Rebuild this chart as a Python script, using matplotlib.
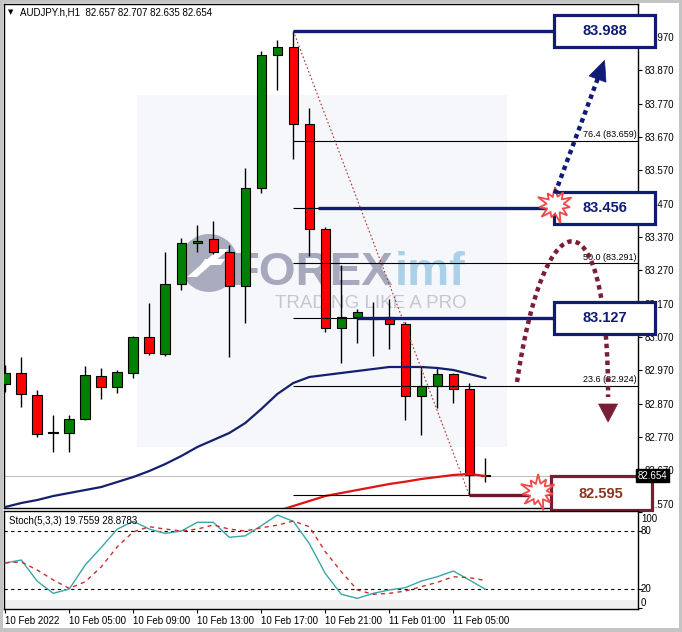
import numpy as np
import matplotlib
matplotlib.use("Agg")
import matplotlib.pyplot as plt
import matplotlib.transforms as mtransforms
from matplotlib.patches import Rectangle, Polygon, Ellipse

plt.rcParams['font.family'] = ['Liberation Sans', 'DejaVu Sans']

# AUDJPY.h H1 candles
opens  = [82.929, 82.962, 82.896, 82.782, 82.782, 82.824, 82.953, 82.920, 82.962, 83.070,
          83.019, 83.229, 83.352, 83.364, 83.325, 83.223, 83.517, 83.916, 83.940, 83.709,
          83.394, 83.097, 83.130, 83.124, 83.130, 83.109, 82.893, 82.923, 82.959, 82.914, 82.657]
highs  = [82.986, 83.010, 82.911, 82.836, 82.836, 82.983, 82.977, 82.971, 83.073, 83.172,
          83.325, 83.367, 83.406, 83.418, 83.346, 83.577, 83.928, 83.961, 83.988, 83.757,
          83.400, 83.286, 83.154, 83.175, 83.184, 83.115, 82.980, 82.977, 82.962, 82.932, 82.707]
lows   = [82.905, 82.860, 82.770, 82.725, 82.725, 82.821, 82.884, 82.902, 82.947, 83.016,
          83.013, 83.211, 83.325, 83.319, 83.010, 83.112, 83.502, 83.811, 83.604, 83.313,
          83.085, 82.992, 83.052, 83.013, 83.034, 82.821, 82.776, 82.857, 82.872, 82.595, 82.635]
closes = [82.962, 82.899, 82.779, 82.785, 82.824, 82.956, 82.920, 82.965, 83.070, 83.022,
          83.229, 83.352, 83.358, 83.325, 83.223, 83.517, 83.916, 83.940, 83.709, 83.394,
          83.097, 83.130, 83.145, 83.127, 83.109, 82.893, 82.923, 82.959, 82.914, 82.657, 82.654]

# moving averages
ma_navy = [82.560, 82.572, 82.581, 82.593, 82.602, 82.611, 82.620, 82.635, 82.650, 82.668,
           82.689, 82.713, 82.740, 82.761, 82.782, 82.812, 82.854, 82.899, 82.932, 82.950,
           82.956, 82.962, 82.968, 82.974, 82.980, 82.980, 82.980, 82.977, 82.971, 82.959, 82.947]
ma_red = [np.nan] * 17 + [82.548, 82.563, 82.578, 82.593, 82.602, 82.611, 82.620, 82.629,
                          82.636, 82.644, 82.650, 82.656, 82.659, 82.653]

# Stoch(5,3,3)
stoch_main = [47, 50, 28, 15.5, 20, 45, 63, 82, 90, 82, 77.5, 80, 89, 89, 73.5, 75, 85.5,
              96.5, 90, 67, 36, 14.5, 10.3, 15.5, 19, 21.4, 28.2, 32.7, 38.6, 29.3, 19.7559]
stoch_signal = [47, 48, 39.6, 29.3, 20.7, 27.5, 43, 63.7, 79.2, 84.4, 82, 80, 82, 86.2, 82,
                80, 83.4, 86, 90.3, 84.4, 58.6, 37.9, 19, 14.5, 15.5, 17.9, 22.4, 26.9,
                32.7, 31.7, 28.8783]

time_ticks = [0, 4, 8, 12, 16, 20, 24, 28]
time_labels = ['10 Feb 2022', '10 Feb 05:00', '10 Feb 09:00', '10 Feb 13:00',
               '10 Feb 17:00', '10 Feb 21:00', '11 Feb 01:00', '11 Feb 05:00']

# fibonacci from bar 18 high to bar 29 low
fib_high, fib_low, fib_start = 83.988, 82.595, 18
fib_levels = [0.0, 23.6, 38.2, 50.0, 61.8, 76.4, 100.0]
fib_labelled = [23.6, 50.0, 76.4]   # the others sit under the boxes

# target boxes: price, line start bar
navy_targets = [(83.988, 18.0), (83.456, 19.55), (83.127, 22.0)]
red_target = (82.595, 29.0)
box_left, box_w, box_h = 34.3, 6.3, 0.095

navy = '#101c74'
maroon = '#7a1e36'

W, H = 682, 632
fig = plt.figure(figsize=(W / 100, H / 100), dpi=100, facecolor='#c4c4c4')
fig.add_artist(Rectangle((3 / W, 4 / H), 676 / W, 625 / H, transform=fig.transFigure,
                         facecolor='white', edgecolor='none', zorder=-5))


def frac(x0, y0, x1, y1):
    return [x0 / W, 1 - y1 / H, (x1 - x0) / W, (y1 - y0) / H]


ax = fig.add_axes(frac(4, 4, 638, 508))
axs = fig.add_axes(frac(4, 511, 638, 609))

xmax = 39.54
ax.set_xlim(-0.08, xmax)
ax.set_ylim(82.557, 84.069)
axs.set_xlim(-0.08, xmax)
axs.set_ylim(-0.7, 100.7)

for a in (ax, axs):
    for s in a.spines.values():
        s.set_linewidth(1.0)
        s.set_color('black')


def pts(anchor, offsets):
    # shape offsets in screen pixels (y down) around a data anchor
    d = ax.transData.transform(anchor)
    o = np.array(offsets, dtype=float)
    o[:, 1] *= -1
    return ax.transData.inverted().transform(d + o)


# light panel behind the watermark
ax.add_patch(Rectangle((8.23, 82.740), 23.13, 1.056, facecolor='#f6f7fa', edgecolor='none', zorder=0.3))

# watermark
ax.add_patch(Ellipse((12.73, 83.292), 3.62, 0.174, facecolor='#a9acbf', edgecolor='none', zorder=0.5))
ax.add_patch(Polygon(pts((12.73, 83.292), [(-22, 14), (-12, 14), (20, -14), (10, -14)]),
                     facecolor='white', edgecolor='none', zorder=0.6))
ax.add_patch(Polygon(pts((12.73, 83.292), [(-4, -4), (16, -4), (12, 2), (-8, 2)]),
                     facecolor='white', edgecolor='none', zorder=0.6))
t1 = ax.text(14.1, 83.226, 'FOREX', fontsize=34, fontweight='bold', color='#a6a9bd',
             va='baseline', ha='left', zorder=0.7)
fig.canvas.draw()
bb = t1.get_window_extent()
x_imf = ax.transData.inverted().transform((bb.x1 + 1, bb.y0))[0]
ax.text(x_imf, 83.226, 'imf', fontsize=34, fontweight='bold', color='#abd1e8',
        va='baseline', ha='left', zorder=0.7)
ax.text(16.86, 83.157, 'TRADING LIKE A PRO', fontsize=13.5, color='#c4c6d1',
        va='baseline', ha='left', zorder=0.7)

# candles
for i in range(len(opens)):
    o, h, l, c = opens[i], highs[i], lows[i], closes[i]
    ax.vlines(i, l, h, color='black', lw=1.0, zorder=3)
    if abs(c - o) < 0.0015:
        ax.hlines(c, i - 0.33, i + 0.33, color='black', lw=1.0, zorder=3.5)
        continue
    col = '#007f00' if c > o else '#ff0000'
    ax.add_patch(Rectangle((i - 0.3, min(o, c)), 0.6, abs(c - o), facecolor=col,
                           edgecolor='black', lw=0.8, zorder=3.5))

# moving averages
x = np.arange(len(opens))
ax.plot(x, ma_navy, color='#14206e', lw=1.6, zorder=4)
ax.plot(x, ma_red, color='#e01414', lw=1.6, zorder=4)

# current price line
ax.axhline(closes[-1], color='#c0c0c0', lw=0.8, zorder=1)

# fibonacci levels
rng = fib_high - fib_low
for lv in fib_levels:
    p = fib_low + lv / 100 * rng
    ax.hlines(p, fib_start, xmax, color='black', lw=0.8, zorder=4.2)
    if lv in fib_labelled:
        ax.text(xmax - 0.08, p + 0.004, f'{lv:.1f} ({p:.3f})', fontsize=6.5, ha='right',
                va='bottom', zorder=4.3)
ax.plot([fib_start, 29], [fib_high, fib_low], color='#b03030', lw=0.8,
        linestyle=(0, (1.5, 2)), zorder=4.4)

# target lines and boxes
for price, start in navy_targets:
    ax.hlines(price, start, box_left, color=navy, lw=2.4, zorder=4.6)
    ax.add_patch(Rectangle((box_left, price - box_h / 2), box_w, box_h, facecolor='white',
                           edgecolor=navy, lw=2.3, zorder=6, clip_on=False))
    ax.text(box_left + box_w / 2, price, f'{price:.3f}', fontsize=10.5, fontweight='bold',
            color=navy, ha='center', va='center', zorder=6.5, clip_on=False)

rp, rs = red_target
ax.hlines(rp, rs, box_left - 1, color='#6a1a2c', lw=2.4, zorder=4.6)
ax.add_patch(Rectangle((box_left - 0.2, rp + 0.005 - box_h / 2), box_w, box_h + 0.004,
                       facecolor='white', edgecolor=maroon, lw=2.3, zorder=6, clip_on=False))
ax.text(box_left - 0.2 + box_w / 2, rp + 0.005, f'{rp:.3f}', fontsize=10.5, fontweight='bold',
        color='#8c3424', ha='center', va='center', zorder=6.5, clip_on=False)


def star(anchor):
    radii_out = [18, 14, 19, 16, 18, 13, 19, 16, 15, 18, 15]
    n = len(radii_out)
    verts = []
    for k in range(n):
        a0 = np.pi / 2 + 2 * np.pi * k / n
        a1 = a0 + np.pi / n
        verts.append((radii_out[k] * np.cos(a0), -radii_out[k] * np.sin(a0)))
        verts.append((8.5 * np.cos(a1), -8.5 * np.sin(a1)))
    ax.add_patch(Polygon(pts(anchor, verts), facecolor='white', edgecolor='#f04848',
                         lw=1.3, zorder=7, clip_on=False))


star((34.36, 83.466))
star((33.3, 82.605))


def head(tip, direction, length, width, color, z):
    d = np.array(direction, dtype=float)
    d /= np.hypot(*d)
    nrm = np.array([-d[1], d[0]])
    base = -d * length
    verts = [(0, 0), tuple(base + nrm * width / 2), tuple(base - nrm * width / 2)]
    ax.add_patch(Polygon(pts(tip, verts), facecolor=color, edgecolor=color, lw=0.5, zorder=z))


# up arrow (navy, dotted)
up_start, up_tip = (34.35, 83.500), (37.45, 83.900)
ds = ax.transData.transform(up_start)
dt = ax.transData.transform(up_tip)
vec = (dt - ds) * np.array([1, -1])
up_end = pts(up_tip, [-vec / np.hypot(*vec) * 18])[0]
ax.plot([up_start[0], up_end[0]], [up_start[1], up_end[1]], color=navy, lw=3.2,
        linestyle=(0, (1, 0.9)), dash_capstyle='butt', zorder=8)
head(up_tip, vec, 20, 18, navy, 8)

# arc arrow (maroon, dotted) passes behind the 83.127 box
P = np.array([(31.98, 82.935), (33.73, 83.505), (37.67, 83.505), (37.67, 82.890)])
t = np.linspace(0, 1, 120)[:, None]
curve = ((1 - t) ** 3) * P[0] + 3 * ((1 - t) ** 2) * t * P[1] + 3 * (1 - t) * t ** 2 * P[2] + t ** 3 * P[3]
ax.plot(curve[:, 0], curve[:, 1], color=maroon, lw=3.2, linestyle=(0, (1, 0.9)),
        dash_capstyle='butt', zorder=5.5)
head((37.67, 82.815), (0, 1), 18, 19, maroon, 5.5)

# right price axis
ax.set_xticks([])
ax.yaxis.tick_right()
yt = np.round(82.570 + 0.1 * np.arange(15), 3)
ax.set_yticks(yt)
ax.set_yticklabels([f'{v:.3f}' for v in yt])
ax.tick_params(axis='y', direction='out', length=3, width=0.8, labelsize=7, pad=1.5)

ax.text(1.0, closes[-1], f'{closes[-1]:.3f}', transform=mtransforms.blended_transform_factory(ax.transAxes, ax.transData),
        fontsize=7, color='white', ha='left', va='center', zorder=9, clip_on=False,
        bbox=dict(boxstyle='square,pad=0.18', facecolor='black', edgecolor='black'))

# header
ax.text(0.006, 0.984, '\u25bc', transform=ax.transAxes, fontsize=5, family='DejaVu Sans',
        va='center', ha='left')
ax.text(0.025, 0.984, f'AUDJPY.h,H1  {opens[-1]:.3f} {highs[-1]:.3f} {lows[-1]:.3f} {closes[-1]:.3f}',
        transform=ax.transAxes, fontsize=7, va='center', ha='left')

# stochastic pane
axs.axhspan(-0.7, 8.6, color='#efefef', lw=0, zorder=0)
axs.plot(x, stoch_main, color='#38a8a6', lw=1.0, zorder=3)
axs.plot(x, stoch_signal, color='#c83030', lw=1.0, linestyle=(0, (3, 3)), zorder=3)
for lv in (80, 20):
    axs.axhline(lv, color='black', lw=0.8, linestyle=(0, (3, 3)), zorder=2)
axs.text(0.008, 0.9, f'Stoch(5,3,3) {stoch_main[-1]:.4f} {stoch_signal[-1]:.4f}',
         transform=axs.transAxes, fontsize=7, ha='left', va='center')

axs.yaxis.tick_right()
axs.set_yticks([0, 20, 80, 100])
axs.set_yticklabels([])
axs.tick_params(axis='y', direction='out', length=3, width=0.8)
for val, lab, dy in [(100, '100', -7), (80, '80', 0), (20, '20', 0), (0, '0', 5)]:
    axs.annotate(lab, xy=(1, val), xycoords=('axes fraction', 'data'), xytext=(3, dy),
                 textcoords='offset pixels', fontsize=7, ha='left', va='center',
                 annotation_clip=False)

axs.set_xticks(time_ticks)
axs.set_xticklabels(time_labels)
axs.tick_params(axis='x', direction='out', length=3, width=0.8, labelsize=7, pad=2)
for lab in axs.get_xticklabels():
    lab.set_horizontalalignment('left')

fig.savefig('out.png', dpi=100, facecolor=fig.get_facecolor())
